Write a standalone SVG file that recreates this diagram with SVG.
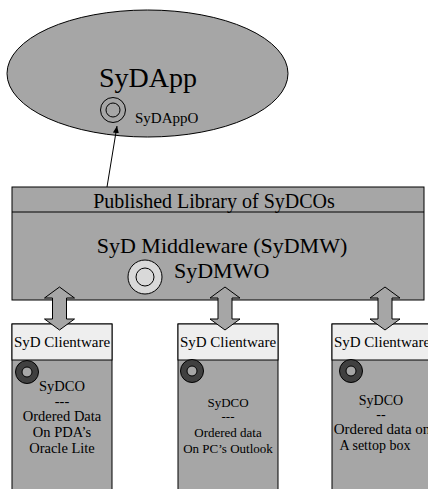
<svg xmlns="http://www.w3.org/2000/svg" width="428" height="489" viewBox="0 0 428 489">
<defs>
<style>
text{font-family:"Liberation Serif","Times New Roman",serif;fill:#000;text-anchor:middle}
.g{fill:#a6a6a6;stroke:#000;stroke-width:1}
.hd{fill:#eeeeee;stroke:#000;stroke-width:1}
.dr{fill:#404040;stroke:#000;stroke-width:1}
.blk{fill:#a6a6a6;stroke:#000;stroke-width:1}
.lr{fill:#d9d9d9;stroke:#000;stroke-width:1}
</style>
<marker id="ah" markerWidth="8" markerHeight="8" refX="7" refY="4" orient="auto" markerUnits="userSpaceOnUse">
<path d="M0,1 L7,4 L0,7 Z" fill="#000"/>
</marker>
</defs>
<rect width="428" height="489" fill="#fff"/>
<g id="sydapp">
<ellipse class="g" cx="147.5" cy="73.5" rx="140.5" ry="63.5"/>
<text x="148" y="87" font-size="28">SyDApp</text>
<circle class="g" cx="113" cy="110" r="12.5"/>
<circle class="g" cx="113" cy="110" r="7"/>
<text x="135" y="123" font-size="15" style="text-anchor:start">SyDAppO</text>
</g>
<g id="middleware">
<rect class="g" x="12" y="187" width="412" height="113"/>
<line x1="12" y1="212" x2="424" y2="212" stroke="#000"/>
<text x="214" y="208" font-size="20">Published Library of SyDCOs</text>
<text x="222" y="253" font-size="22">SyD Middleware (SyDMW)</text>
<circle class="lr" cx="145" cy="277" r="17"/>
<circle class="lr" cx="145" cy="277" r="9"/>
<text x="174" y="278" font-size="22" style="text-anchor:start">SyDMWO</text>
</g>
<g id="client1">
<rect class="g" x="12" y="324" width="100" height="175"/>
<rect class="hd" x="12" y="324" width="100" height="36"/>
<text x="62" y="347" font-size="15">SyD Clientware</text>
<circle class="dr" cx="27" cy="372" r="11.5"/>
<circle class="g" cx="27" cy="372" r="5"/>
<text x="62" y="391" font-size="14.5">SyDCO</text>
<text x="62" y="406" font-size="14.5">---</text>
<text x="62" y="421" font-size="14.5">Ordered Data</text>
<text x="62" y="437" font-size="14.5">On PDA’s</text>
<text x="62" y="453" font-size="14.5">Oracle Lite</text>
</g>
<g id="client2">
<rect class="g" x="178" y="324" width="100" height="175"/>
<rect class="hd" x="178" y="324" width="100" height="36"/>
<text x="228" y="347" font-size="15">SyD Clientware</text>
<circle class="dr" cx="192" cy="371" r="11.5"/>
<circle class="g" cx="192" cy="371" r="5"/>
<text x="228" y="407" font-size="13">SyDCO</text>
<text x="228" y="421" font-size="13">---</text>
<text x="228" y="437" font-size="13">Ordered data</text>
<text x="228" y="453" font-size="13">On PC’s Outlook</text>
</g>
<g id="client3">
<rect class="g" x="332" y="324" width="100" height="175"/>
<rect class="hd" x="332" y="324" width="100" height="36"/>
<text x="382" y="347" font-size="15">SyD Clientware</text>
<circle class="dr" cx="351" cy="371" r="11.5"/>
<circle class="g" cx="351" cy="371" r="5"/>
<text x="381" y="405" font-size="14">SyDCO</text>
<text x="381" y="419" font-size="14">--</text>
<text x="382" y="434" font-size="15">Ordered data on</text>
<text x="375" y="450" font-size="14">A settop box</text>
</g>
<g id="connectors">
<line x1="107" y1="187" x2="117" y2="126" stroke="#000" stroke-width="1" marker-end="url(#ah)"/>
<polygon class="blk" points="59.5,287 74.5,298 66.5,298 66.5,319 74.5,319 59.5,330 44.5,319 52.5,319 52.5,298 44.5,298"/>
<polygon class="blk" points="225,287 240,298 232,298 232,319 240,319 225,330 210,319 218,319 218,298 210,298"/>
<polygon class="blk" points="385,287 400,298 392,298 392,319 400,319 385,330 370,319 378,319 378,298 370,298"/>
</g>
</svg>
